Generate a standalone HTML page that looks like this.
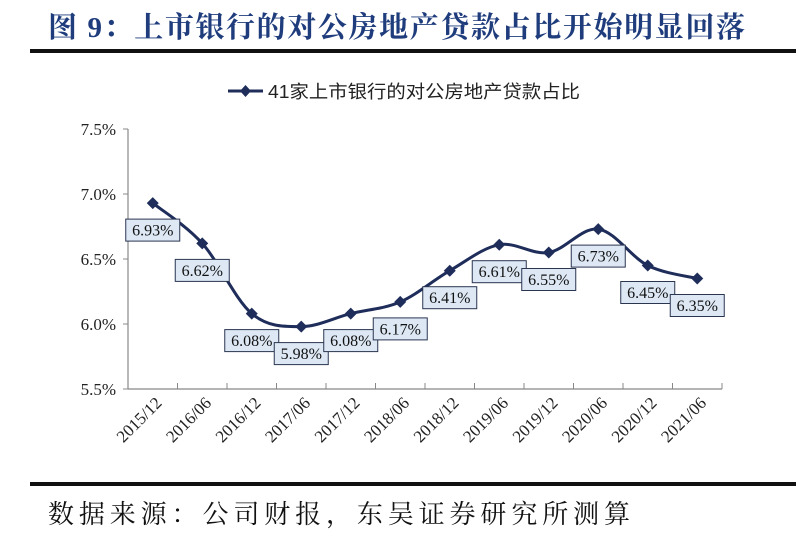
<!DOCTYPE html>
<html><head><meta charset="utf-8"><style>
body{margin:0;background:#fff;width:796px;height:535px;overflow:hidden;position:relative}
</style></head><body>
<svg width="796" height="535" style="position:absolute;left:0;top:0">
<text x="48" y="37" textLength="697" lengthAdjust="spacing" font-family="'Liberation Serif','Noto Serif CJK SC',serif" font-size="29" font-weight="bold" fill="#1f3c7c">图 9：上市银行的对公房地产贷款占比开始明显回落</text>
<rect x="30" y="49" width="766" height="4" fill="#111"/>
<g>
<line x1="228" y1="91" x2="263" y2="91" stroke="#1f2d5a" stroke-width="3"/>
<path d="M245.5 85 L251 91 L245.5 97 L240 91Z" fill="#1f2d5a"/>
<text x="268" y="98" textLength="312" lengthAdjust="spacingAndGlyphs" font-family="'Liberation Sans','Noto Sans CJK SC',sans-serif" font-size="18" fill="#222">41家上市银行的对公房地产贷款占比</text>
</g>
<g id="axes"></g>
<g id="marks"></g>
<rect x="30" y="482" width="766" height="4" fill="#111"/>
<text x="48" y="523" textLength="582" lengthAdjust="spacing" font-family="'Liberation Serif','Noto Serif CJK SC',serif" font-size="26" fill="#111">数据来源：公司财报，东吴证券研究所测算</text>
</svg>
<script>
const categories=["2015/12","2016/06","2016/12","2017/06","2017/12","2018/06","2018/12","2019/06","2019/12","2020/06","2020/12","2021/06"];
const values=[6.93,6.62,6.08,5.98,6.08,6.17,6.41,6.61,6.55,6.73,6.45,6.35];
const yTicks=[5.5,6.0,6.5,7.0,7.5];
const NS="http://www.w3.org/2000/svg";
const x0=128,x1=722,yBase=389;
const step=(x1-x0)/categories.length;
function xs(i){return x0+step*(i+0.5);}
function ys(v){return yBase-(v-5.5)*130;}
function mk(t,a,p){const e=document.createElementNS(NS,t);for(const k in a)e.setAttribute(k,a[k]);p.appendChild(e);return e;}
const ax=document.getElementById('axes'),mg=document.getElementById('marks');
const ya=mk('line',{x1:x0,y1:ys(7.5),x2:x0,y2:yBase,stroke:'#888','stroke-width':1.2},ax);


const xa=mk('line',{x1:x0,y1:yBase,x2:x1,y2:yBase,stroke:'#888','stroke-width':1.2},ax);


yTicks.forEach(v=>{
 mk('line',{x1:x0-5,y1:ys(v),x2:x0,y2:ys(v),stroke:'#888'},ax);
 const t=mk('text',{x:x0-12,y:ys(v)+6,'text-anchor':'end','font-family':"'Liberation Serif',serif",'font-size':17,fill:'#222'},ax);
 t.textContent=v.toFixed(1)+'%';
 
 
});
for(let i=0;i<=categories.length;i++){mk('line',{x1:x0+step*i,y1:yBase-6,x2:x0+step*i,y2:yBase,stroke:'#888'},ax);}
categories.forEach((c,i)=>{
 const x=xs(i)+10,y=yBase+15;
 const t=mk('text',{x:x,y:y,'text-anchor':'end','font-family':"'Liberation Serif',serif",'font-size':17,fill:'#222',transform:`rotate(-45 ${x} ${y})`},ax);
 t.textContent=c;
 
 
});
const P=values.map((v,i)=>[xs(i),ys(v)]);
let d=`M${P[0][0]},${P[0][1]}`;
for(let i=0;i<P.length-1;i++){
 const p0=P[i-1]||P[i],p1=P[i],p2=P[i+1],p3=P[i+2]||P[i+1];
 const c1=[p1[0]+(p2[0]-p0[0])/6,p1[1]+(p2[1]-p0[1])/6],c2=[p2[0]-(p3[0]-p1[0])/6,p2[1]-(p3[1]-p1[1])/6];
 d+=` C${c1[0]},${c1[1]} ${c2[0]},${c2[1]} ${p2[0]},${p2[1]}`;
}
const ln=mk('path',{d:d,fill:'none',stroke:'#1f2d5a','stroke-width':3},mg);


P.forEach((p,i)=>{
 const m=mk('path',{d:`M${p[0]} ${p[1]-6}L${p[0]+6} ${p[1]}L${p[0]} ${p[1]+6}L${p[0]-6} ${p[1]}Z`,fill:'#1f2d5a'},mg);
 
 
});
P.forEach((p,i)=>{
 const cy=p[1]+27;
 const r=mk('rect',{x:p[0]-27,y:cy-11,width:54,height:22,fill:'#dde8f4',stroke:'#2a3550','stroke-width':1},mg);
 
 
 const t=mk('text',{x:p[0],y:cy+5.5,'text-anchor':'middle','font-family':"'Liberation Serif',serif",'font-size':16,fill:'#111'},mg);
 t.textContent=values[i].toFixed(2)+'%';
 
 
});
</script>
</body></html>
